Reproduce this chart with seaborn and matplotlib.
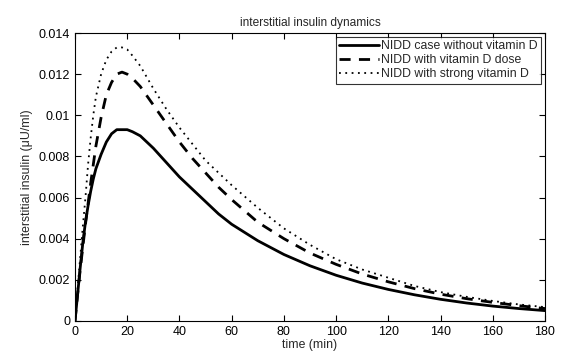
import numpy as np
import pandas as pd
import matplotlib
matplotlib.use("Agg")
import matplotlib.pyplot as plt
import seaborn as sns
from matplotlib.ticker import FuncFormatter, MultipleLocator

# data
time_min = [0, 1, 2, 3, 4, 5, 6, 7, 8, 10, 12, 14, 16, 18, 20, 22, 25, 30, 35, 40, 45, 50,
            55, 60, 70, 80, 90, 100, 110, 120, 130, 140, 150, 160, 170, 180]
no_vitd = [0, 0.0013, 0.0026, 0.0038, 0.0048, 0.0056, 0.0063, 0.0069, 0.0074, 0.0081,
           0.0087, 0.0091, 0.0093, 0.0093, 0.0093, 0.0092, 0.0090, 0.0084, 0.0077, 0.0070,
           0.0064, 0.0058, 0.0052, 0.0047, 0.0039, 0.00323, 0.00268, 0.00222, 0.00184,
           0.00153, 0.00127, 0.00105, 0.00087, 0.00072, 0.0006, 0.0005]
vitd_dose = [0, 0.0013, 0.0025, 0.0036, 0.0047, 0.0057, 0.0067, 0.0076, 0.0085, 0.0099,
             0.0110, 0.0116, 0.0120, 0.0121, 0.0120, 0.0118, 0.0114, 0.0105, 0.0096, 0.0087,
             0.0079, 0.0072, 0.0065, 0.0059, 0.0048, 0.0040, 0.0033, 0.00275, 0.00228,
             0.0019, 0.00157, 0.0013, 0.00108, 0.0009, 0.00074, 0.0006]
strong_vitd = [0, 0.0016, 0.0031, 0.0046, 0.0060, 0.0076, 0.0089, 0.0100, 0.0109, 0.0120,
               0.0127, 0.0131, 0.0133, 0.0133, 0.0132, 0.0129, 0.0124, 0.0113, 0.0103, 0.0094,
               0.0086, 0.0078, 0.0072, 0.0066, 0.0055, 0.0045, 0.0037, 0.0030, 0.0025,
               0.0021, 0.0017, 0.0014, 0.00117, 0.00097, 0.0008, 0.00067]

df = pd.DataFrame({"time": time_min, "a": no_vitd, "b": vitd_dose, "c": strong_vitd})

sns.set_style("ticks")
plt.rcParams['font.family'] = ['Liberation Sans', 'DejaVu Sans']
plt.rcParams['font.size'] = 8.7

fig = plt.figure(figsize=(5.86, 3.63), dpi=100)
ax = fig.add_axes([0.128, 0.116, 0.802, 0.793])

sns.lineplot(data=df, x="time", y="a", ax=ax, color="black", lw=2,
             linestyle="-", label="NIDD case without vitamin D")
sns.lineplot(data=df, x="time", y="b", ax=ax, color="black", lw=2,
             linestyle=(0, (4, 3)), label="NIDD with vitamin D dose")
sns.lineplot(data=df, x="time", y="c", ax=ax, color="black", lw=1.3,
             linestyle=(0, (1, 2.5)), label="NIDD with strong vitamin D")

ax.set_xlim(0, 180)
ax.set_ylim(0, 0.014)
ax.xaxis.set_major_locator(MultipleLocator(20))
ax.yaxis.set_major_locator(MultipleLocator(0.002))
ax.yaxis.set_major_formatter(FuncFormatter(lambda v, p: "%g" % round(v, 4)))
ax.tick_params(direction="in", top=True, right=True, length=4, labelsize=9, colors="black")
for s in ax.spines.values():
    s.set_color("black")
    s.set_linewidth(0.8)

ax.set_title("interstitial insulin dynamics", fontsize=8.6, pad=5)
ax.set_xlabel("time (min)", fontsize=8.8, labelpad=1)
ax.set_ylabel("interstitial insulin (μU/ml)", fontsize=8.8, labelpad=4)

leg = ax.legend(loc="upper right", fontsize=8.8, frameon=True, fancybox=False,
                handlelength=3.2, borderpad=0.3, labelspacing=0.15, handletextpad=0.2,
                borderaxespad=0.3)
leg.get_frame().set_edgecolor("black")
leg.get_frame().set_linewidth(0.8)

fig.savefig("out.png", dpi=100)
